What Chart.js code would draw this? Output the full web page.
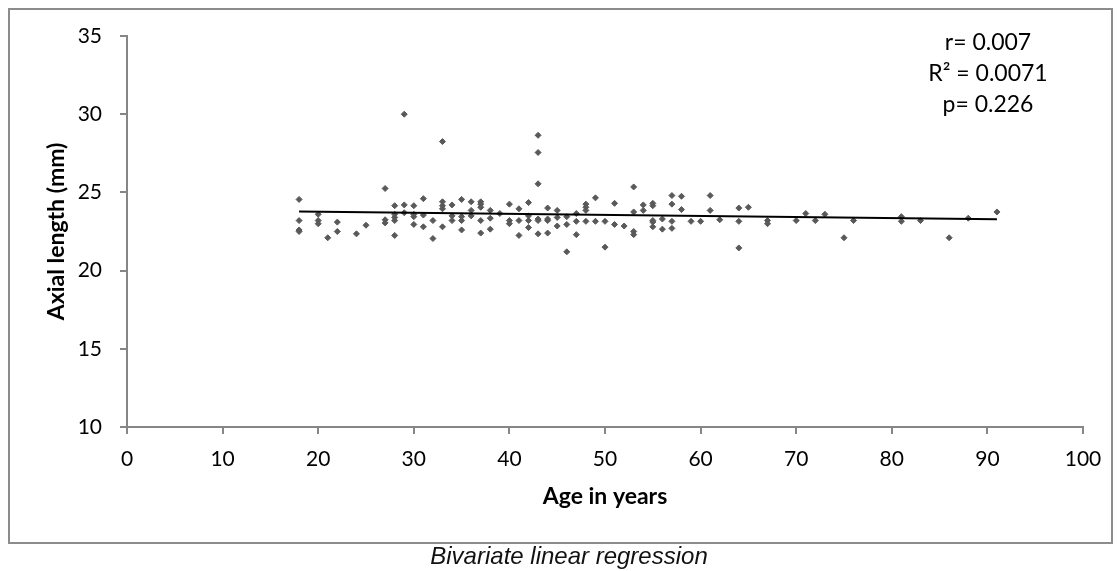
<!DOCTYPE html>
<html lang="en">
<head>
  <meta charset="UTF-8">
  <title>Axial length vs age</title>
  <script src="https://cdn.jsdelivr.net/npm/chart.js"></script>
  <style>
    * { box-sizing: border-box; }
    body, html { margin:0; padding:0; width:1120px; height:571px; background:#fff; overflow:hidden; }
    .frame { position:absolute; left:8px; top:8px; width:1105px; height:536px; border:2px solid #8c8c8c; }
    #chart { position:absolute; left:0; top:0; }
    .caption { position:absolute; left:0; width:1138px; top:542px; text-align:center; font-family:'Liberation Sans', Arial, sans-serif; font-style:italic; font-size:24px; color:#111; }
  </style>
</head>
<body>
  <div class="frame"></div>
  <canvas id="chart" width="1120" height="571"></canvas>
  <div class="caption">Bivariate linear regression</div>

  <script>
    // Age (years) and axial length (mm), one pair per patient
    const ages = [
      18, 18, 18, 18,
      20, 20, 20,
      21,
      22, 22,
      24, 25,
      27, 27, 27,
      28, 28, 28, 28, 28,
      29, 29, 29,
      30, 30, 30, 30,
      31, 31, 31,
      32, 32,
      33, 33, 33, 33, 33,
      34, 34, 34,
      35, 35, 35, 35,
      36, 36, 36,
      37, 37, 37, 37, 37,
      38, 38, 38,
      39,
      40, 40, 40,
      41, 41, 41,
      42, 42, 42, 42,
      43, 43, 43, 43, 43, 43,
      44, 44, 44, 44,
      45, 45, 45,
      46, 46, 46,
      47, 47, 47,
      48, 48, 48, 48,
      49, 49,
      50, 50,
      51, 51,
      52,
      53, 53, 53, 53,
      54, 54,
      55, 55, 55, 55, 55,
      56, 56,
      57, 57, 57, 57,
      58, 58,
      59, 60,
      61, 61,
      62,
      64, 64, 64,
      65,
      67, 67,
      70, 71, 72, 73, 75, 76,
      81, 81,
      83, 86, 88, 91
    ];
    const axialLengths = [
      24.55, 23.2, 22.6, 22.5,
      23.6, 23.2, 23.0,
      22.1,
      23.1, 22.5,
      22.35, 22.9,
      25.25, 23.25, 23.05,
      24.15, 23.6, 23.4, 23.2, 22.25,
      30.0, 24.2, 23.7,
      24.15, 23.6, 23.45, 22.95,
      24.6, 23.55, 22.8,
      23.2, 22.05,
      28.25, 24.4, 24.15, 23.95, 22.8,
      24.2, 23.5, 23.2,
      24.55, 23.45, 23.2, 22.6,
      24.4, 23.85, 23.5,
      24.4, 24.25, 24.05, 23.2, 22.4,
      23.85, 23.35, 22.65,
      23.65,
      24.25, 23.2, 23.0,
      23.95, 23.2, 22.25,
      24.35, 23.5, 23.2, 22.75,
      28.65, 27.55, 25.55, 23.3, 23.2, 22.35,
      24.0, 23.3, 23.2, 22.4,
      23.85, 23.4, 22.85,
      23.45, 22.95, 21.2,
      23.65, 23.15, 22.3,
      24.25, 24.05, 23.85, 23.15,
      24.65, 23.15,
      23.15, 21.5,
      24.3, 22.95,
      22.85,
      25.35, 23.75, 22.5, 22.3,
      24.2, 23.85,
      24.3, 24.15, 23.2, 23.1, 22.8,
      23.3, 22.65,
      24.8, 24.25, 23.15, 22.7,
      24.75, 23.9,
      23.15, 23.15,
      24.8, 23.85,
      23.25,
      24.0, 23.15, 21.45,
      24.05,
      23.2, 23.0,
      23.2, 23.65, 23.2, 23.6, 22.1, 23.2,
      23.45, 23.15,
      23.2, 22.1, 23.35, 23.75
    ];
    // Linear trend line end points
    const trendAges = [18, 91];
    const trendLengths = [23.78, 23.29];
    const statLines = ['r= 0.007', 'R\u00B2 = 0.0071', 'p= 0.226'];

    const axisGray = '#868686';
    const fontFamily = "Lato, 'Open Sans', sans-serif";

    const statsText = {
      id: 'statsText',
      afterDraw(chart) {
        const c = chart.ctx;
        c.save();
        c.fillStyle = '#000';
        c.font = '23px ' + fontFamily;
        c.textAlign = 'center';
        c.textBaseline = 'middle';
        statLines.forEach((t, i) => c.fillText(t, 988, 43 + i * 31));
        c.restore();
      }
    };

    new Chart(document.getElementById('chart'), {
      type: 'scatter',
      data: {
        datasets: [
          {
            data: ages.map((a, i) => ({ x: a, y: axialLengths[i] })),
            pointStyle: 'rectRot',
            pointRadius: 3,
            pointBorderWidth: 1,
            backgroundColor: '#595959',
            borderColor: '#595959',
            order: 2
          },
          {
            data: trendAges.map((a, i) => ({ x: a, y: trendLengths[i] })),
            showLine: true,
            pointRadius: 0,
            borderColor: '#000',
            borderWidth: 2,
            order: 1
          }
        ]
      },
      options: {
        responsive: false,
        animation: false,
        events: [],
        layout: { padding: { left: 0, right: 37, top: 36, bottom: 0 } },
        plugins: { legend: { display: false }, tooltip: { enabled: false } },
        scales: {
          x: {
            type: 'linear',
            min: 0, max: 100,
            afterFit(s) { s.height = 144; },
            ticks: { stepSize: 10, color: '#000', padding: 13, font: { family: fontFamily, size: 21 } },
            grid: { drawOnChartArea: false, tickLength: 7, color: axisGray, lineWidth: 2 },
            border: { display: true, color: axisGray, width: 2 },
            title: { display: true, text: 'Age in years', color: '#000',
                     font: { family: fontFamily, size: 23, weight: 'bold' }, padding: { top: 0, bottom: 61 } }
          },
          y: {
            min: 10, max: 35,
            afterFit(s) { s.width = 127; },
            ticks: { stepSize: 5, color: '#000', padding: 18, font: { family: fontFamily, size: 21 } },
            grid: { drawOnChartArea: false, tickLength: 7, color: axisGray, lineWidth: 2 },
            border: { display: true, color: axisGray, width: 2 },
            title: { display: true, text: 'Axial length (mm)', color: '#000',
                     font: { family: fontFamily, size: 23, weight: 'bold' }, padding: { top: 43, bottom: 0 } }
          }
        }
      },
      plugins: [statsText]
    });
  </script>
</body>
</html>
